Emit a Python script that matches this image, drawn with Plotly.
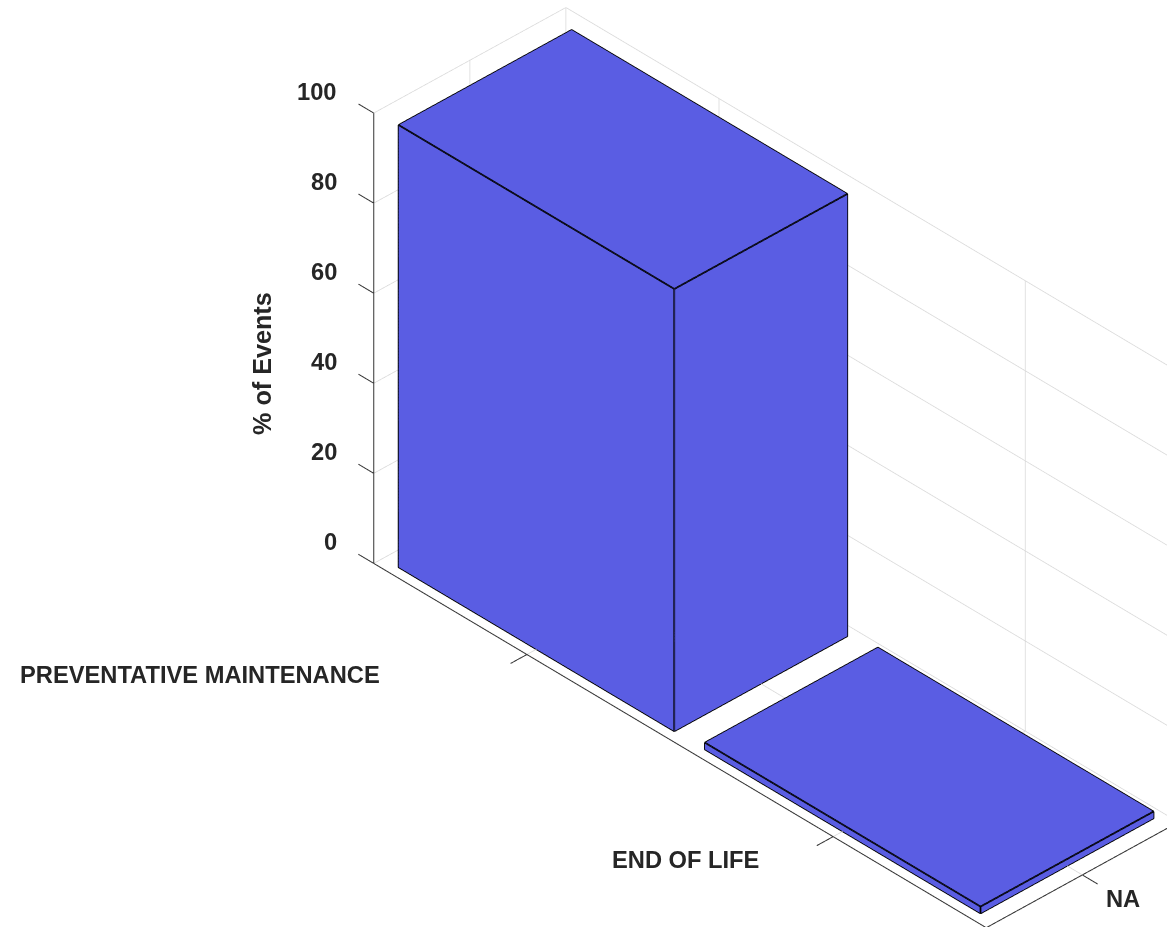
import numpy as np
import plotly.graph_objects as go

categories = ["PREVENTATIVE MAINTENANCE", "END OF LIFE"]
column_labels = ["NA"]
values = [98.2, 1.5]
z_ticks = [0, 20, 40, 60, 80, 100]
y_tick_pos = [-1, -2]
x_tick_pos = [1]
bar_half = 0.45
BAR = "#5A5DE3"
INK = "#262626"
AXIS = "#333333"
GRID = "#D8D8D8"

# axes limits and the slightly larger scene box that leaves room for outward ticks
xr = [0.5, 1.5]
yr = [-2.5, -0.5]
zr = [0, 100]
x_box = [0.41, 1.5]
y_box = [-2.555, -0.445]

view = np.array([-0.5685, -0.5915, 0.5717])
right = np.array([0.721, -0.693, 0.0])
up = np.array([0.396, 0.412, 0.8206])
SCALE = 1.1842
aspect = dict(x=0.4856 * SCALE * (x_box[1] - x_box[0]),
              y=0.8052 * SCALE * (y_box[1] - y_box[0]),
              z=SCALE)
PX_PER_WORLD = 444.0
center = (-176.2 * right + 8.5 * up) / PX_PER_WORLD
eye = center + 2.0 * view

fig = go.Figure()

# grid lines and the wall edges
gx, gy, gz = [], [], []
def gseg(p, q):
    gx.extend([p[0], q[0], None]); gy.extend([p[1], q[1], None]); gz.extend([p[2], q[2], None])
for t in z_ticks:
    gseg((xr[0], yr[1], t), (xr[1], yr[1], t))
    gseg((xr[1], yr[1], t), (xr[1], yr[0], t))
for t in x_tick_pos:
    gseg((t, yr[1], zr[0]), (t, yr[1], zr[1]))
    gseg((t, yr[1], zr[0]), (t, yr[0], zr[0]))
for t in y_tick_pos:
    gseg((xr[1], t, zr[0]), (xr[1], t, zr[1]))
    gseg((xr[0], t, zr[0]), (xr[1], t, zr[0]))
gseg((xr[1], yr[1], zr[0]), (xr[1], yr[1], zr[1]))
gseg((xr[1], yr[0], zr[0]), (xr[1], yr[0], zr[1]))
gseg((xr[1], yr[1], zr[0]), (xr[1], yr[0], zr[0]))
fig.add_trace(go.Scatter3d(x=gx, y=gy, z=gz, mode="lines", hoverinfo="skip",
                           line=dict(color=GRID, width=1.5)))

ex, ey, ez = [], [], []
for i, v in enumerate(values):
    x0, x1 = 1 - bar_half, 1 + bar_half
    y0, y1 = -(i + 1) - bar_half, -(i + 1) + bar_half
    vx = [x0, x1, x1, x0, x0, x1, x1, x0]
    vy = [y0, y0, y1, y1, y0, y0, y1, y1]
    vz = [0, 0, 0, 0, v, v, v, v]
    fig.add_trace(go.Mesh3d(
        x=vx, y=vy, z=vz,
        i=[0, 0, 4, 4, 0, 0, 3, 3, 0, 0, 1, 1],
        j=[1, 2, 5, 6, 1, 5, 2, 6, 3, 7, 2, 6],
        k=[2, 3, 6, 7, 5, 4, 6, 7, 7, 4, 6, 5],
        color=BAR, flatshading=True, hoverinfo="skip",
        lighting=dict(ambient=1, diffuse=0, specular=0, fresnel=0, roughness=1),
    ))
    edges = [
        [(x0, y0, v), (x1, y0, v), (x1, y1, v), (x0, y1, v), (x0, y0, v)],
        [(x0, y1, v), (x0, y1, 0), (x0, y0, 0), (x0, y0, v)],
        [(x0, y0, 0), (x1, y0, 0), (x1, y0, v)],
    ]
    for e in edges:
        for p in e:
            ex.append(p[0]); ey.append(p[1]); ez.append(p[2])
        ex.append(None); ey.append(None); ez.append(None)
fig.add_trace(go.Scatter3d(x=ex, y=ey, z=ez, mode="lines", hoverinfo="skip",
                           line=dict(color="#000000", width=3.5)))

# axis lines and outward ticks
ax, ay, az = [], [], []
def seg(p, q):
    ax.extend([p[0], q[0], None]); ay.extend([p[1], q[1], None]); az.extend([p[2], q[2], None])
seg((xr[0], yr[1], 0), (xr[0], yr[0], 0))
seg((xr[0], yr[0], 0), (xr[1], yr[0], 0))
seg((xr[0], yr[1], 0), (xr[0], yr[1], 100))
for t in z_ticks:
    seg((xr[0], yr[1], t), (xr[0], yr[1] + 0.05, t))
for t in y_tick_pos:
    seg((xr[0], t, 0), (xr[0] - 0.085, t, 0))
for t in x_tick_pos:
    seg((t, yr[0], 0), (t, yr[0] - 0.05, 0))
fig.add_trace(go.Scatter3d(x=ax, y=ay, z=az, mode="lines", hoverinfo="skip",
                           line=dict(color=AXIS, width=2)))

def ann(x, y, z, text, xshift, yshift, xanchor="center", angle=0, size=23.7):
    return dict(x=x, y=y, z=z, text=f"<b>{text}</b>", showarrow=False,
                xshift=xshift, yshift=yshift, xanchor=xanchor, yanchor="middle",
                textangle=angle, font=dict(family="Liberation Sans", size=size, color=INK))

anns = [ann(0.5, -1, 0, categories[0], -145, -21, "right"),
        ann(0.5, -2, 0, categories[1], -72, -23, "right"),
        ann(1, -2.5, 0, column_labels[0], 22, -24, "left"),
        ann(0.5, -0.5, 50, "% of Events", -112, -25, "center", -90, 25.2)]
for t in z_ticks:
    anns.append(ann(0.5, -0.5, t, str(t), -35, 21.5, "right"))

common = dict(showbackground=False, showticklabels=False, title=dict(text=""),
              showgrid=False, zeroline=False, showspikes=False,
              showline=False, ticks="")

fig.update_layout(
    width=1167, height=927, margin=dict(l=0, r=0, t=0, b=0), showlegend=False,
    paper_bgcolor="white",
    scene=dict(
        domain=dict(x=[0, 1], y=[0, 1]),
        aspectmode="manual", aspectratio=aspect,
        camera=dict(projection=dict(type="orthographic"),
                    eye=dict(x=eye[0], y=eye[1], z=eye[2]),
                    center=dict(x=center[0], y=center[1], z=center[2]),
                    up=dict(x=0, y=0, z=1)),
        xaxis=dict(range=x_box, tickvals=x_tick_pos, **common),
        yaxis=dict(range=y_box, tickvals=y_tick_pos, **common),
        zaxis=dict(range=zr, tickvals=z_ticks, **common),
        annotations=anns,
    ),
)
fig.write_html("out.html", config={"displayModeBar": False},
               post_script="document.body.style.margin='0';document.body.style.overflow='hidden';")
